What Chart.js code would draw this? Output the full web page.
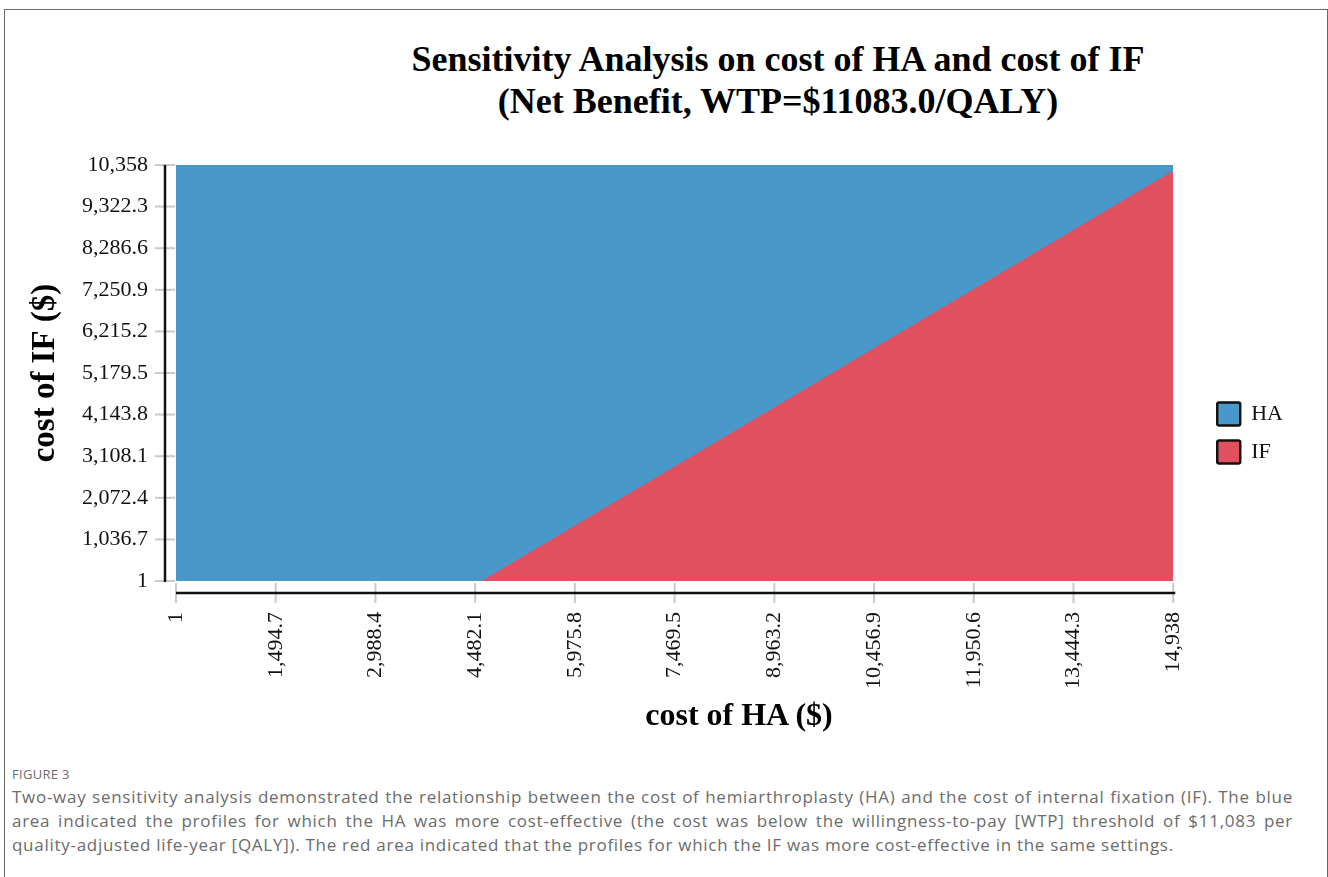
<!DOCTYPE html>
<html><head><meta charset="utf-8">
<script src="https://cdn.jsdelivr.net/npm/chart.js@4.4.1/dist/chart.umd.min.js"></script>
<style>
html,body{margin:0;padding:0;width:1328px;height:877px;overflow:hidden;background:#fff;}
#frame{position:absolute;left:4px;top:9px;width:1322px;height:920px;border:1px solid #6a6a6a;}
#chartWrap{position:absolute;left:0;top:0;width:1328px;height:740px;}
#title{position:absolute;left:378px;top:38px;width:800px;text-align:center;font:bold 36px "Liberation Serif","Times New Roman",serif;line-height:42px;color:#000;}
#xtitle{position:absolute;left:539px;top:694px;width:400px;text-align:center;font:bold 32px "Liberation Serif","Times New Roman",serif;line-height:40px;color:#000;}
#cap{position:absolute;left:12px;top:764px;width:1281px;font-family:"Open Sans",Lato,sans-serif;color:#6b6b6b;}
#cap .fig{font-size:13px;letter-spacing:0.3px;line-height:20px;margin-bottom:1px;}
#cap .ln{font-size:17px;line-height:24px;white-space:nowrap;letter-spacing:0.72px;}
#cap .j{text-align:justify;text-align-last:justify;}
</style></head>
<body>
<div id="frame"></div>
<div id="title">Sensitivity Analysis on cost of HA and cost of IF<br>(Net Benefit, WTP=$11083.0/QALY)</div>
<div id="chartWrap"><canvas id="c" width="1328" height="740"></canvas></div>
<div id="xtitle">cost of HA ($)</div>
<div id="cap">
<div class="fig">FIGURE 3</div>
<div class="ln j">Two-way sensitivity analysis demonstrated the relationship between the cost of hemiarthroplasty (HA) and the cost of internal fixation (IF). The blue</div>
<div class="ln j">area indicated the profiles for which the HA was more cost-effective (the cost was below the willingness-to-pay [WTP] threshold of $11,083 per</div>
<div class="ln">quality-adjusted life-year [QALY]). The red area indicated that the profiles for which the IF was more cost-effective in the same settings.</div>
</div>
<script>
// ---- data ----
const xTicks = [1, 1494.7, 2988.4, 4482.1, 5975.8, 7469.5, 8963.2, 10456.9, 11950.6, 13444.3, 14938];
const yTicks = [1, 1036.7, 2072.4, 3108.1, 4143.8, 5179.5, 6215.2, 7250.9, 8286.6, 9322.3, 10358];
const seriesNames = ['HA', 'IF'];
// HA preferred region: whole grid up to the top edge
const haX = [1, 14938];
const haY = [10358, 10358];
// IF preferred region: below the break-even line
const ifX = [4578, 14938];
const ifY = [1, 10216];
const colors = ['#4899c9', '#e0505f'];

const serif = '"Liberation Serif","Times New Roman",serif';
const toPts = (xs, ys) => xs.map((x, i) => ({x: x, y: ys[i]}));
const fmt = v => Number(v).toLocaleString('en-US', {maximumFractionDigits: 1});

const axisDecor = {
  id: 'axisDecor',
  afterLayout(chart) {
    chart.legend.left += 29; chart.legend.right += 29;
  },
  afterDraw(chart) {
    const {ctx, chartArea: a, scales: {x, y}} = chart;
    ctx.save();
    ctx.strokeStyle = '#c9c9c9'; ctx.lineWidth = 2;
    ctx.beginPath();
    x.ticks.forEach(t => { const p = x.getPixelForValue(t.value); ctx.moveTo(p, a.bottom + 2); ctx.lineTo(p, a.bottom + 22); });
    y.ticks.forEach(t => { const p = y.getPixelForValue(t.value); ctx.moveTo(a.left - 21, p); ctx.lineTo(a.left - 1, p); });
    ctx.stroke();
    ctx.strokeStyle = '#111'; ctx.lineWidth = 2.5;
    ctx.beginPath();
    ctx.moveTo(a.left - 11, a.top); ctx.lineTo(a.left - 11, a.bottom + 1);
    ctx.moveTo(a.left, a.bottom + 12); ctx.lineTo(a.right + 2, a.bottom + 12);
    ctx.stroke();
    ctx.restore();
  }
};

const chart = new Chart(document.getElementById('c'), {
  type: 'line',
  data: {
    datasets: [
      {label: seriesNames[0], data: toPts(haX, haY), backgroundColor: colors[0], borderColor: colors[0], borderWidth: 0, pointRadius: 0, tension: 0, fill: {value: 1}, order: 2},
      {label: seriesNames[1], data: toPts(ifX, ifY), backgroundColor: colors[1], borderColor: colors[1], borderWidth: 0, pointRadius: 0, tension: 0, fill: {value: 1}, order: 1}
    ]
  },
  options: {
    responsive: false,
    animation: false,
    devicePixelRatio: 1,
    layout: {padding: {top: 165, bottom: 39, left: 0, right: 64}},
    plugins: {
      title: {display: false},
      tooltip: {enabled: false},
      legend: {
        position: 'right',
        align: 'center',
        labels: {
          font: {family: serif, size: 22},
          color: '#111',
          boxWidth: 23, boxHeight: 23, padding: 15,
          sort: (a, b) => a.datasetIndex - b.datasetIndex,
          generateLabels: (ch) => Chart.defaults.plugins.legend.labels.generateLabels(ch).map(l => Object.assign(l, {strokeStyle: '#111', lineWidth: 2.5, borderRadius: 2}))
        }
      }
    },
    scales: {
      x: {
        type: 'linear', min: 1, max: 14938,
        afterBuildTicks: s => { s.ticks = xTicks.map(v => ({value: v})); },
        afterFit: s => { s.height = 120; },
        grid: {display: false, drawTicks: false},
        border: {display: false},
        ticks: {autoSkip: false, minRotation: 90, maxRotation: 90, padding: 31, color: '#111', font: {family: serif, size: 22}, callback: v => fmt(v)}
      },
      y: {
        type: 'linear', min: 1, max: 10358,
        afterBuildTicks: s => { s.ticks = yTicks.map(v => ({value: v})); },
        afterFit: s => { s.width = 176; },
        grid: {display: false, drawTicks: false},
        border: {display: false},
        ticks: {autoSkip: false, padding: 28, color: '#111', font: {family: serif, size: 22}, callback: v => fmt(v)},
        title: {display: true, text: 'cost of IF ($)', color: '#000', font: {family: serif, size: 33, weight: 'bold'}, padding: {top: 26, bottom: 0}}
      }
    }
  },
  plugins: [axisDecor]
});
</script>
</body></html>
